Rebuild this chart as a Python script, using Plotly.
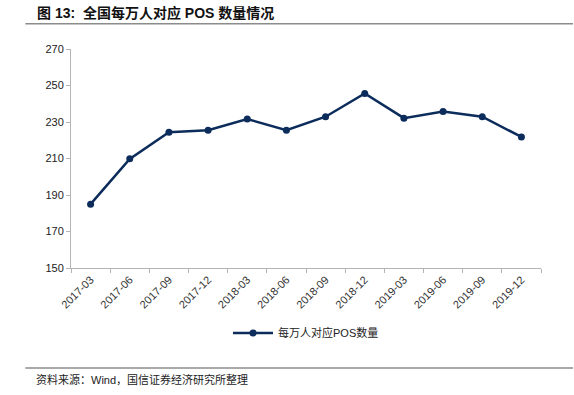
import plotly.graph_objects as go

categories = ["2017-03", "2017-06", "2017-09", "2017-12", "2018-03", "2018-06",
              "2018-09", "2018-12", "2019-03", "2019-06", "2019-09", "2019-12"]
pos_per_10k = [185.0, 209.8, 224.4, 225.5, 231.6, 225.5,
               232.9, 245.6, 232.1, 235.8, 232.9, 221.8]
series_name = "每万人对应POS数量"
y_ticks = [150, 170, 190, 210, 230, 250, 270]

W, H = 574, 395
L, R, T, B = 70.7, 541, 48.5, 268

line_color = "#0c2c5c"
axis_color = "#b4b4b4"
font_fam = "Liberation Sans, Noto Sans CJK SC, Arial, sans-serif"

fig = go.Figure()
fig.add_trace(go.Scatter(
    x=categories, y=pos_per_10k, mode="lines+markers", name=series_name,
    line=dict(color=line_color, width=2.5),
    marker=dict(color=line_color, size=7),
))

fig.update_layout(
    width=W, height=H,
    margin=dict(l=L, r=W - R, t=T, b=H - B, pad=0, autoexpand=False),
    plot_bgcolor="white", paper_bgcolor="white",
    font=dict(family=font_fam, size=11, color="#222"),
    showlegend=True,
    legend=dict(orientation="h", x=0.5, xanchor="center", yref="container",
                y=1 - 333 / H, yanchor="middle",
                font=dict(size=11, color="#222"), itemwidth=40),
    xaxis=dict(type="category", showgrid=False, showline=True, linecolor=axis_color,
               linewidth=1, ticks="outside", tickcolor=axis_color, ticklen=4,
               tickson="boundaries", tickangle=-45, tickfont=dict(size=11, color="#333"),
               range=[-0.5, 11.5], zeroline=False, automargin=False),
    yaxis=dict(range=[150, 270], tickvals=y_ticks, showgrid=False, showline=True,
               linecolor=axis_color, linewidth=1, ticks="outside", tickcolor=axis_color,
               ticklen=4, tickfont=dict(size=11, color="#222"), zeroline=False,
               automargin=False),
    shapes=[
        dict(type="line", xref="paper", yref="paper",
             x0=(25 - L) / (R - L), x1=(573 - L) / (R - L),
             y0=(B - 23.3) / (B - T), y1=(B - 23.3) / (B - T),
             line=dict(color="#8c8c8c", width=1.5)),
        dict(type="line", xref="paper", yref="paper",
             x0=(25 - L) / (R - L), x1=(573 - L) / (R - L),
             y0=(B - 368.3) / (B - T), y1=(B - 368.3) / (B - T),
             line=dict(color="#8c8c8c", width=1.5)),
    ],
    annotations=[
        dict(text="<b>图 13:  全国每万人对应 POS 数量情况</b>", xref="paper", yref="paper",
             x=(35 - L) / (R - L), y=(B - 12) / (B - T), xanchor="left", yanchor="middle",
             showarrow=False, font=dict(size=14, color="#111")),
        dict(text="资料来源：Wind，国信证券经济研究所整理", xref="paper", yref="paper",
             x=(34 - L) / (R - L), y=(B - 380) / (B - T), xanchor="left", yanchor="middle",
             showarrow=False, font=dict(size=11, color="#222")),
    ],
)

fig.write_html("out.html", config={"displayModeBar": False},
               post_script="document.body.style.margin='0';document.body.style.padding='0';")
